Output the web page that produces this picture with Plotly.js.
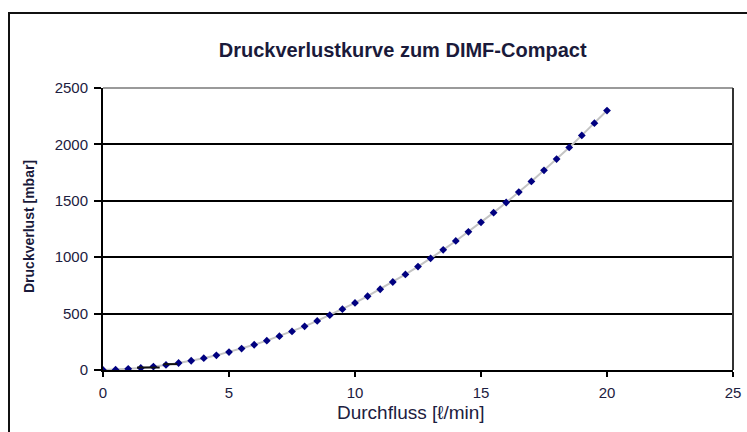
<!DOCTYPE html>
<html>
<head>
<meta charset="utf-8">
<script src="https://cdn.plot.ly/plotly-3.0.1.min.js"></script>
<style>
  html, body { margin: 0; padding: 0; background: #fff; }
  #wrap { position: relative; width: 747px; height: 432px; overflow: hidden; }
  #chart { position: absolute; left: 0; top: 0; width: 747px; height: 432px; }
  #frame { position: absolute; left: 8px; top: 12px; width: 760px; height: 440px;
           border-left: 2.5px solid #111; border-top: 2.5px solid #111; pointer-events: none; }
</style>
</head>
<body>
<div id="wrap">
  <div id="chart"></div>
  <div id="frame"></div>
</div>
<script>
// Data
const chartTitle = "Druckverlustkurve zum DIMF-Compact";
const xTitle = "Durchfluss [ℓ/min]";
const yTitle = "Druckverlust [mbar]";

const flow = [0, 0.5, 1, 1.5, 2, 2.5, 3, 3.5, 4, 4.5, 5, 5.5, 6, 6.5, 7, 7.5, 8, 8.5, 9, 9.5,
              10, 10.5, 11, 11.5, 12, 12.5, 13, 13.5, 14, 14.5, 15, 15.5, 16, 16.5, 17, 17.5,
              18, 18.5, 19, 19.5, 20];
const pressureLoss = [0, 3, 10, 18, 30, 45, 62, 82, 105, 130, 159, 190, 224, 260, 300, 342,
                      387, 435, 486, 539, 595, 654, 716, 780, 847, 917, 990, 1065, 1144, 1225,
                      1309, 1395, 1485, 1577, 1672, 1770, 1870, 1973, 2080, 2188, 2300];

// short black segments visible near the start of the curve
const segX = [1.35, 2.25, null, 2.4, 2.95];
const segY = [22, 22, null, 52, 52];

const xTicks = [0, 5, 10, 15, 20, 25];
const yTicks = [0, 500, 1000, 1500, 2000, 2500];

const curve = {
  x: flow,
  y: pressureLoss,
  type: "scatter",
  mode: "lines+markers",
  line: { color: "#c4c4c4", width: 2 },
  marker: { color: "#000080", size: 6, symbol: "diamond" },
  showlegend: false
};
const segs = {
  x: segX, y: segY, type: "scatter", mode: "lines",
  line: { color: "#111", width: 2 }, connectgaps: false, showlegend: false
};

const FONT = "Liberation Sans, Arial, sans-serif";
const tickFont = { family: FONT, size: 15, color: "#1c2040" };

const layout = {
  width: 747,
  height: 432,
  margin: { l: 103, r: 14, t: 88, b: 62 },
  paper_bgcolor: "#ffffff",
  plot_bgcolor: "#ffffff",
  title: {
    text: "<b>" + chartTitle + "</b>",
    font: { family: FONT, size: 20, color: "#1a1a3a" },
    x: 0.539, xanchor: "center",
    y: 0.884, yanchor: "middle"
  },
  xaxis: {
    range: [0, 25],
    tickvals: xTicks,
    ticktext: xTicks.map(String),
    showgrid: false,
    zeroline: false,
    showline: true, linecolor: "#000", linewidth: 2,
    ticks: "outside", ticklen: 5, tickwidth: 2, tickcolor: "#000",
    ticklabelstandoff: 3,
    tickfont: tickFont
  },
  yaxis: {
    range: [0, 2500],
    tickvals: yTicks,
    ticktext: yTicks.map(String),
    showgrid: true, gridcolor: "#000", gridwidth: 2,
    zeroline: false,
    showline: true, linecolor: "#000", linewidth: 2,
    ticks: "outside", ticklen: 7, tickwidth: 2, tickcolor: "#000",
    ticklabelstandoff: 3,
    tickfont: tickFont
  },
  annotations: [
    { text: xTitle, xref: "paper", yref: "paper", x: (411 - 103) / 630, y: (370 - 412) / 282,
      xanchor: "center", yanchor: "middle", showarrow: false,
      font: { family: FONT, size: 19, color: "#1c2040" } },
    { text: "<b>" + yTitle + "</b>", xref: "paper", yref: "paper", x: (29 - 103) / 630, y: (370 - 227) / 282,
      xanchor: "center", yanchor: "middle", showarrow: false, textangle: -90,
      font: { family: "Liberation Sans Narrow, Liberation Sans, Arial, sans-serif", size: 14, color: "#1a1a3a" } }
  ],
  shapes: [
    { type: "line", xref: "paper", yref: "paper", x0: 0, x1: 1, y0: 1, y1: 1,
      line: { color: "#9a9a9a", width: 2 }, layer: "above" },
    { type: "line", xref: "paper", yref: "paper", x0: 1, x1: 1, y0: 0, y1: 1,
      line: { color: "#333", width: 2 }, layer: "above" }
  ]
};

Plotly.newPlot("chart", [curve, segs], layout, { displayModeBar: false, staticPlot: true });
</script>
</body>
</html>
